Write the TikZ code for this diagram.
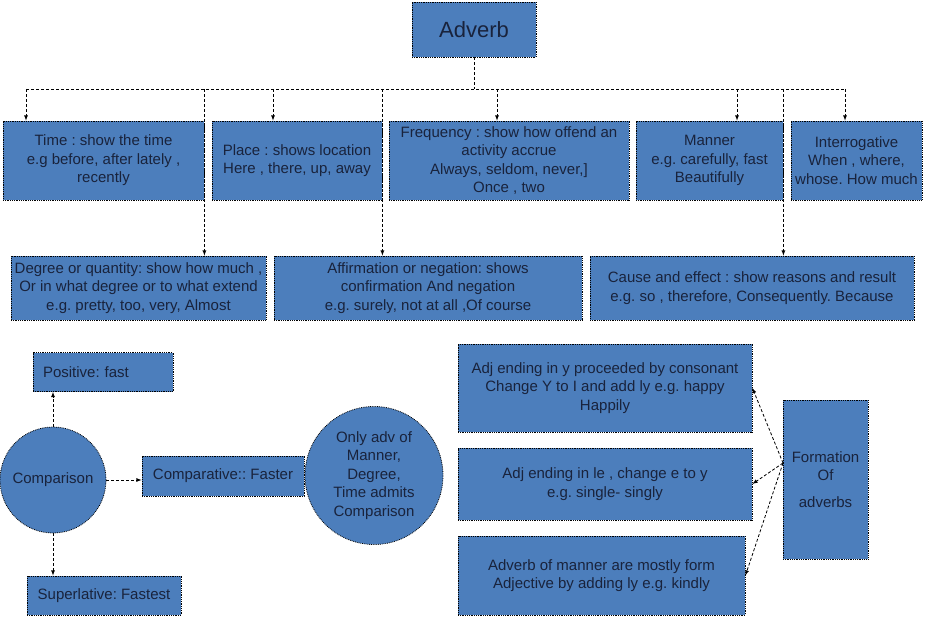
\documentclass[tikz,border=0pt]{standalone}
\usepackage{fontspec}
\setmainfont{Liberation Sans}
\usepackage{tikz}
\usepackage{xcolor}
\definecolor{adverbfill}{RGB}{76,126,188}
\definecolor{adverbink}{RGB}{25,35,60}
\frenchspacing

\begin{document}
\begin{tikzpicture}[x=1pt, y=-1pt,
    box/.style = {shape=rectangle, draw=black, densely dotted, line width=0.8pt,
      fill=adverbfill, text=adverbink, align=center, inner sep=2pt,
      font=\fontsize{15}{18.5}\selectfont},
    blob/.style = {box, shape=circle, inner sep=1pt},
    link/.style = {-latex, draw=black, line width=0.8pt, dash pattern=on 3pt off 2pt},
    wire/.style = {link, -}]
    \useasboundingbox (0,0) rectangle (933,617);

    \node[box, minimum width=124, minimum height=55,
      font=\fontsize{22}{26}\selectfont] (adverb) at (474,29.5) {Adverb};

    \node[box, minimum width=201, minimum height=79] (time) at (103.5,160.5)
      {Time : show the time\\e.g before, after lately ,\\recently};
    \node[box, minimum width=170, minimum height=79] (place) at (297,160.5)
      {Place : shows location\\Here , there, up, away};
    \node[box, minimum width=240, minimum height=79] (freq) at (509,160.5)
      {Frequency : show how offend an\\activity accrue\\Always, seldom, never,]\\Once , two};
    \node[box, minimum width=147, minimum height=79] (manner) at (709.5,160.5)
      {Manner\\e.g. carefully, fast\\Beautifully};
    \node[box, minimum width=131, minimum height=79] (interrog) at (856.5,160.5)
      {Interrogative\\When , where,\\whose. How much};

    \node[box, minimum width=255, minimum height=64] (degree) at (138.5,288)
      {Degree or quantity: show how much ,\\Or in what degree or to what extend\\e.g. pretty, too, very, Almost};
    \node[box, minimum width=308, minimum height=64] (affirm) at (428,288)
      {Affirmation or negation: shows\\confirmation And negation\\e.g. surely, not at all ,Of course};
    \node[box, minimum width=324, minimum height=64] (cause) at (752,288)
      {Cause and effect : show reasons and result\\e.g. so , therefore, Consequently. Because};

    \node[box, text width=120, align=left, inner xsep=10pt, minimum height=39] (positive) at (103,372)
      {Positive: fast};
    \node[blob, minimum size=106] (comparison) at (53,480) {Comparison};
    \node[box, minimum width=162, minimum height=40] (comparative) at (223,476)
      {Comparative:: Faster};
    \node[blob, minimum size=138] (onlyadv) at (374,475.5)
      {Only adv of\\Manner,\\Degree,\\Time admits\\Comparison};
    \node[box, minimum width=154, minimum height=39] (superlative) at (104,595.5)
      {Superlative: Fastest};

    \node[box, minimum width=294, minimum height=88] (adjy) at (605,388)
      {Adj ending in y proceeded by consonant\\Change Y to I and add ly e.g. happy\\Happily};
    \node[box, minimum width=294, minimum height=72] (adjle) at (605,484)
      {Adj ending in le , change e to y\\e.g. single- singly};
    \node[box, minimum width=287, minimum height=79] (advman) at (601.5,575.5)
      {Adverb of manner are mostly form\\Adjective by adding ly e.g. kindly};
    \node[box, minimum width=85, minimum height=159] (formation) at (825.5,479.5)
      {Formation\\Of\\[8pt]adverbs};

    \coordinate (bus) at (474,89);
    \coordinate (d1) at (26,89);
    \coordinate (d2) at (273,89);
    \coordinate (d3) at (497,89);
    \coordinate (d4) at (737,89);
    \coordinate (d5) at (845,89);
    \coordinate (fork) at (783,463);

    \draw[wire] (adverb.south) -- (bus);
    \draw[wire] (d1) -- (d5);
    \draw[link] (d1) -- (d1 |- time.north);
    \draw[link] (d2) -- (d2 |- place.north);
    \draw[link] (d3) -- (d3 |- freq.north);
    \draw[link] (d4) -- (d4 |- manner.north);
    \draw[link] (d5) -- (d5 |- interrog.north);
    \draw[link] (time.east |- bus) -- (degree.north -| time.east);
    \draw[link] (place.east |- bus) -- (affirm.north -| place.east);
    \draw[link] (manner.east |- bus) -- (cause.north -| manner.east);

    \draw[link] (comparison.north) -- (comparison.north |- positive.south);
    \draw[link] (comparison.south) -- (comparison.south |- superlative.north);
    \draw[link] (comparison.east) -- (comparison.east -| comparative.west);

    \draw[link] (fork) -- (adjy.east);
    \draw[link] (fork) -- (adjle.east);
    \draw[link] (fork) -- (advman.east);
\end{tikzpicture}
\end{document}
